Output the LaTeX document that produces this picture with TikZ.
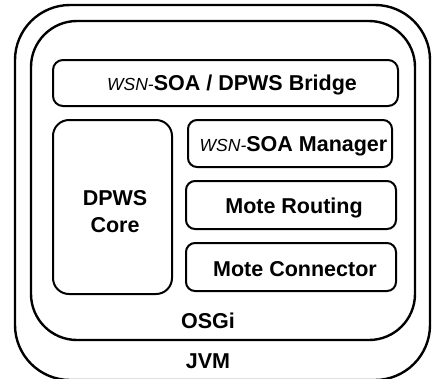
\documentclass[tikz,border=0pt]{standalone}
\usepackage{fontspec}
\setmainfont{Liberation Sans}
\begin{document}
\begin{tikzpicture}[x=1pt,y=-1pt,
  box/.style={draw=black, line width=2pt, rounded corners=#1, inner sep=0pt, minimum width=0pt, minimum height=0pt},
  box/.default=9pt,
  lbl/.style={font=\fontsize{21.5}{24}\selectfont\bfseries, inner sep=0pt, align=center}]
\useasboundingbox (0,0) rectangle (433,378);
\newcommand{\wsn}{{\fontsize{17.5}{20}\selectfont\mdseries\itshape WSN-}}
% containers
\node[box=55pt, line width=2.4pt, minimum width=415pt, minimum height=375pt] (jvm) at (222.5,192.5) {};
\node[box=46pt, line width=2.4pt, minimum width=384pt, minimum height=319pt] (osgi) at (223,180.5) {};
% inner boxes
\node[box=10pt, minimum width=345pt, minimum height=46pt] (bridge) at (225.5,83) {};
\node[box=16pt, minimum width=119pt, minimum height=174pt] (core) at (112.5,207) {};
\node[box=9pt, minimum width=204pt, minimum height=47pt] (manager) at (290,143.5) {};
\node[box=9pt, minimum width=210pt, minimum height=48pt] (routing) at (291,205) {};
\node[box=9pt, minimum width=210pt, minimum height=48pt] (connector) at (291,267) {};
% labels
\node[lbl] (tbridge) at (232,85) {\wsn SOA / DPWS Bridge};
\node[lbl] (tmanager) at (293.5,146) {\wsn SOA Manager};
\node[lbl] (trouting) at (294,208) {Mote Routing};
\node[lbl] (tconnector) at (295,269) {Mote Connector};
\node[lbl] (tcore1) at (115,198) {DPWS};
\node[lbl] (tcore2) at (115,225) {Core};
\node[lbl] (tosgi) at (208,321) {OSGi};
\node[lbl] (tjvm) at (208,361) {JVM};
\end{tikzpicture}
\end{document}
